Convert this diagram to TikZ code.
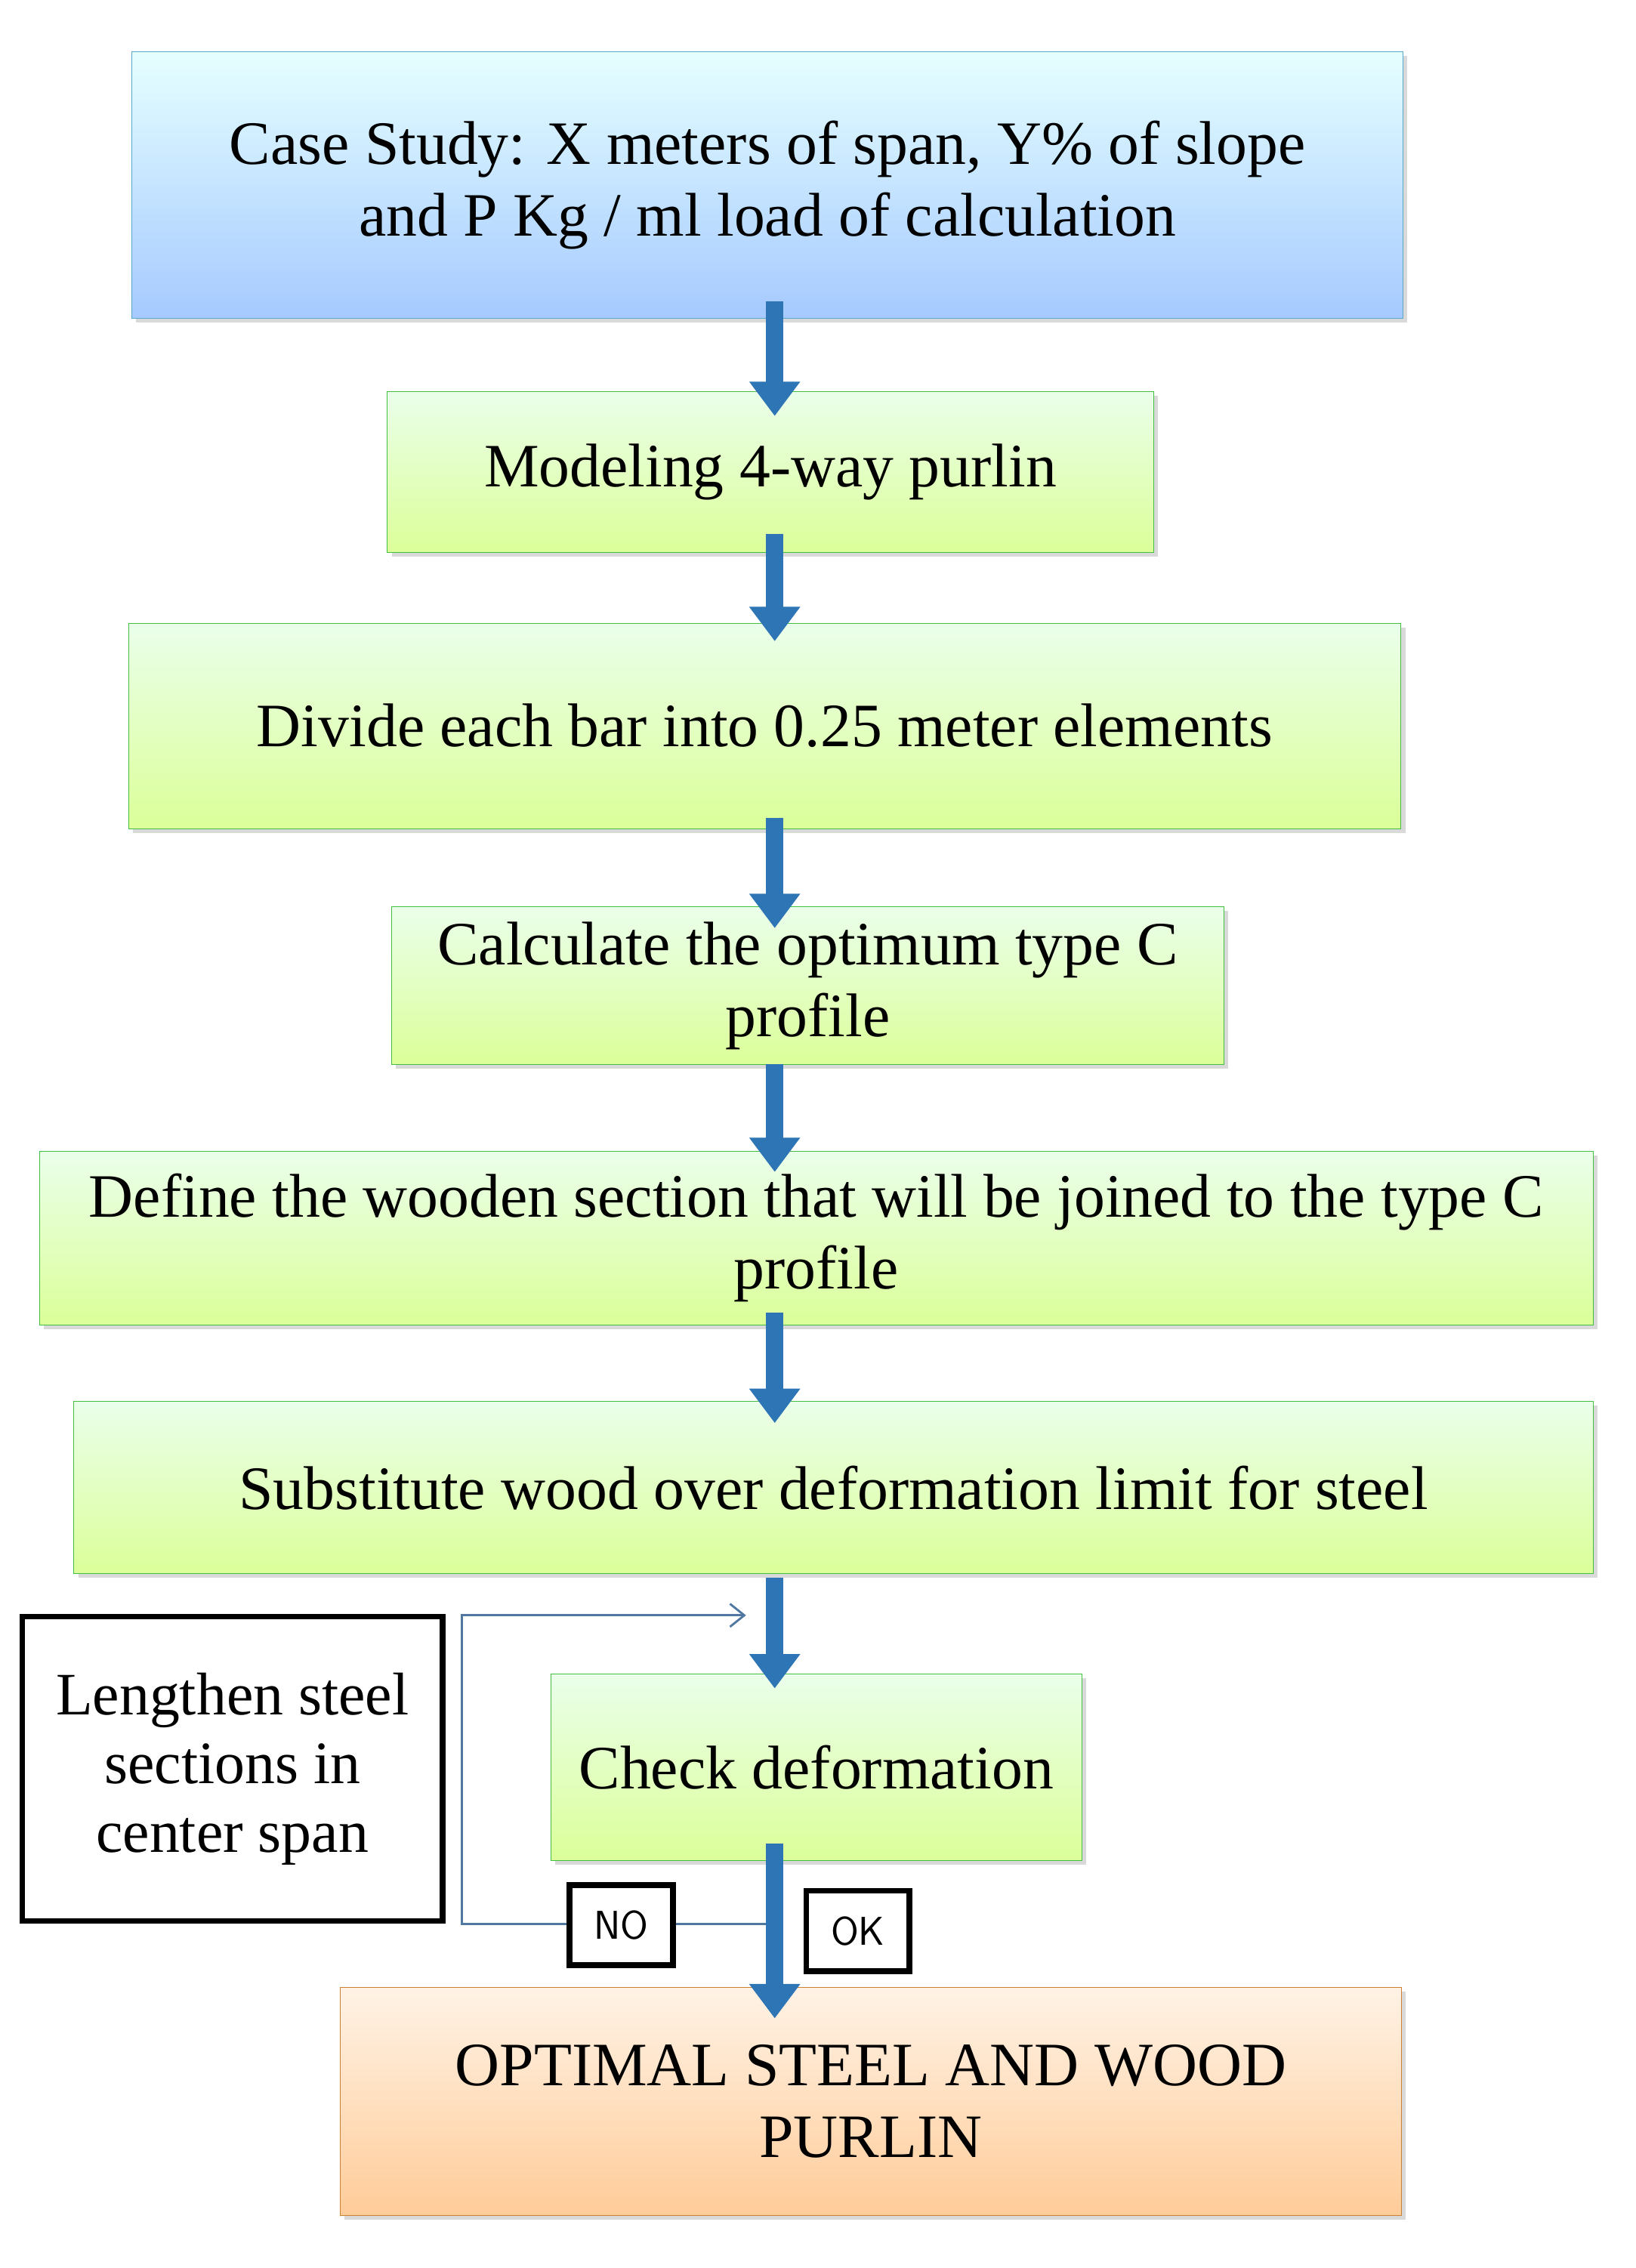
\documentclass[tikz,border=0pt]{standalone}
\usepackage{fontspec}
\setmainfont{Liberation Serif}
\usetikzlibrary{arrows.meta,shadows}
\definecolor{arrblue}{RGB}{46,117,182}
\definecolor{loopblue}{RGB}{80,120,160}
\begin{document}
\begin{tikzpicture}[x=1pt,y=-1pt]
	\tikzstyle{stage} = [draw=green!50!gray, top color=green!8!white, bottom color=green!35!yellow!40, rectangle, align=center, font=\fontsize{43}{50}\selectfont, inner sep=0pt, drop shadow={opacity=0.3,shadow xshift=3pt,shadow yshift=-3pt}]
	\tikzstyle{flow} = [arrblue, line width=12pt, -{Triangle[width=34pt,length=24pt]}, shorten >=0pt]
	\tikzstyle{tag} = [draw, line width=4pt, rectangle, font=\fontsize{28}{30}\selectfont\sffamily, minimum width=72pt, minimum height=56pt]
	\useasboundingbox (0,0) rectangle (1140,1581);

	\node[stage, top color=cyan!10, bottom color=cyan!40!blue!35, draw=cyan!60!gray, minimum width=886pt, minimum height=186pt] (case) at (535,129) {Case Study: X meters of span, Y\% of slope\\and P Kg / ml load of calculation};
	\node[stage, minimum width=534pt, minimum height=112pt] (model) at (537,329) {Modeling 4-way purlin};
	\node[stage, minimum width=887pt, minimum height=143pt] (divide) at (533,506) {Divide each bar into 0.25 meter elements};
	\node[stage, minimum width=580pt, minimum height=110pt] (calc) at (563,687) {Calculate the optimum type C\\profile};
	\node[stage, minimum width=1083pt, minimum height=121pt] (define) at (569,863) {Define the wooden section that will be joined to the type C\\profile};
	\node[stage, minimum width=1059pt, minimum height=120pt] (subst) at (581,1037) {Substitute wood over deformation limit for steel};
	\node[stage, minimum width=370pt, minimum height=130pt] (check) at (569,1232) {Check deformation};
	\node[stage, top color=orange!10, bottom color=orange!40, draw=orange!60!gray, minimum width=740pt, minimum height=159pt] (optimal) at (607,1465) {OPTIMAL STEEL AND WOOD\\PURLIN};
	\node[draw, line width=4pt, rectangle, align=center, font=\fontsize{42}{48}\selectfont, minimum width=293pt, minimum height=212pt] (lengthen) at (162,1233) {Lengthen steel\\sections in\\center span};

	\coordinate (loopin) at (520,1126);
	\coordinate (loopbot) at (540,1341);
	\draw[loopblue, line width=1.5pt, -{Straight Barb[length=10pt,width=16pt]}] (loopbot) -- (322,1341) |- (loopin);
	\node[tag, fill=white] (no) at (433,1342) {NO};
	\node[tag, fill=white] (ok) at (598,1346) {OK};

	\draw[flow] (540,210) -- (540,290);
	\draw[flow] (540,372) -- (540,447);
	\draw[flow] (540,570) -- (540,647);
	\draw[flow] (540,742) -- (540,817);
	\draw[flow] (540,915) -- (540,992);
	\draw[flow] (540,1100) -- (540,1177);
	\draw[flow] (540,1285) -- (540,1407);
\end{tikzpicture}
\end{document}
